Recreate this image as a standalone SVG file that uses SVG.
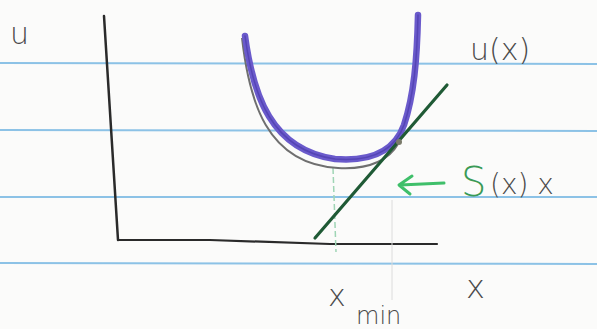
<svg xmlns="http://www.w3.org/2000/svg" width="597" height="329" viewBox="0 0 597 329">
<style>
.rule{stroke:#8cc2e6;stroke-width:2;fill:none}
.ink{stroke:#2a2a2a;fill:none;stroke-linecap:round;stroke-linejoin:round}
.hand{font-family:"DejaVu Sans",sans-serif;font-weight:300;fill:#4a4a4a}
.green{fill:#3a9a55}
</style>
<rect width="597" height="329" fill="#fbfbfa"/>
<g id="paper">
<line class="rule" x1="0" y1="63" x2="597" y2="64"/>
<line class="rule" x1="0" y1="130" x2="597" y2="131"/>
<line class="rule" x1="0" y1="197" x2="597" y2="197"/>
<line class="rule" x1="0" y1="263" x2="597" y2="264"/>
</g>
<g id="axes">
<path class="ink" d="M104,16 L118,240" stroke-width="2.5"/>
<path class="ink" d="M118,240 L210,240 L330,244 L437,244" stroke-width="2.2"/>
</g>
<g id="guides">
<line x1="333" y1="168" x2="336" y2="252" stroke="#9fd5b5" stroke-width="1.5" stroke-dasharray="6,3"/>
<line x1="392" y1="200" x2="392" y2="300" stroke="#dcdcdc" stroke-width="1"/>
</g>
<g id="curve">
<path d="M242,38 C249,100 266,164 338,168 C372,170 390,158 398,144" fill="none" stroke="#6f6f6f" stroke-width="2"/>
<path d="M245,36 C253,95 271,150 335,159 C372,162 395,150 404,125 C414,95 417,60 418,15" fill="none" stroke="#6a5acb" stroke-width="6.5" stroke-linecap="round"/>
<path d="M245,36 C253,95 271,150 335,159 C372,162 395,150 404,125 C414,95 417,60 418,15" fill="none" stroke="#3f2fa0" stroke-width="1.5" stroke-linecap="round" opacity="0.5"/>
</g>
<g id="tangent">
<line x1="315" y1="238" x2="447" y2="85" stroke="#1f5a35" stroke-width="3.2" stroke-linecap="round"/>
<circle cx="399" cy="142" r="3" fill="#7a7a6a"/>
</g>
<g id="arrow">
<path d="M444,183 L400,185 M412,176 L399,185 L410,194" fill="none" stroke="#3fbf6a" stroke-width="3" stroke-linecap="round" stroke-linejoin="round"/>
</g>
<g id="labels">
<text class="hand" x="10" y="44" font-size="30">u</text>
<text class="hand" x="470" y="60" font-size="30">u(x)</text>
<text class="hand green" x="461" y="196" font-size="40">S</text>
<text class="hand" x="490" y="194" font-size="28">(x) x</text>
<text class="hand" x="466" y="298" font-size="32">x</text>
<text class="hand" x="328" y="306" font-size="30">x</text>
<text class="hand" x="356" y="324" font-size="24">min</text>
</g>
</svg>
